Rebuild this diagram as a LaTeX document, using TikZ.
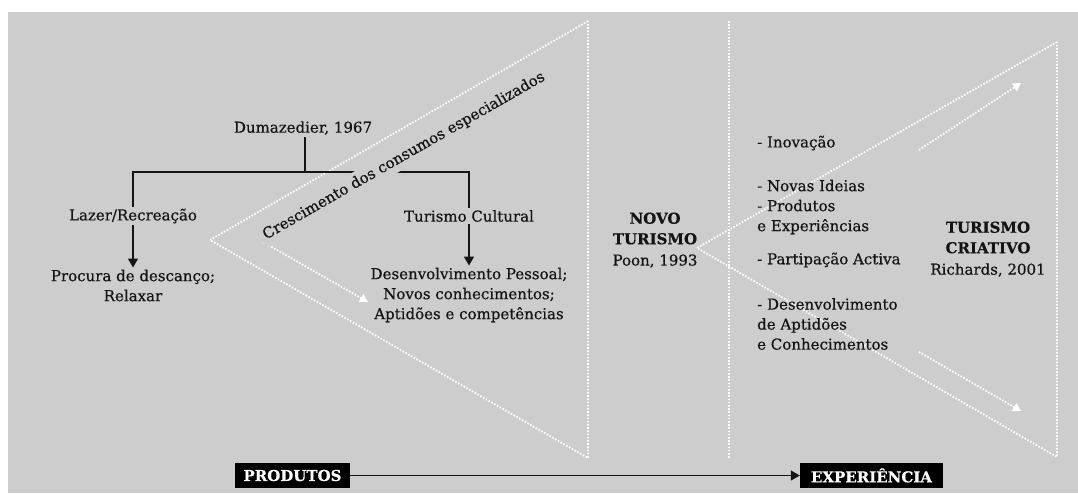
\documentclass[tikz,border=0pt]{standalone}
\usepackage{fontspec}
\setmainfont{DejaVu Serif}[FakeBold=0.5]
\usetikzlibrary{arrows.meta,positioning}
\definecolor{bggray}{RGB}{205,205,205}
\definecolor{ink}{RGB}{20,20,20}
\tikzset{
  every node/.style={text=ink, font=\fontsize{15}{20}\selectfont, inner sep=2pt},
  dotline/.style={white, line width=1.8pt, dash pattern=on 1.6pt off 1.6pt},
  dotarrow/.style={dotline, -{Triangle[length=8pt,width=9pt]}},
  tree/.style={ink, line width=1.3pt},
  treearrow/.style={tree, -{Triangle[length=9pt,width=10pt]}},
  title/.style={font=\fontsize{15}{20.5}\selectfont\bfseries, align=center},
  tag/.style={fill=black, text=white, font=\fontsize{15}{18}\selectfont\bfseries,
    minimum height=25pt, inner sep=0pt},
}
\begin{document}
\begin{tikzpicture}[x=1pt,y=-1pt]
\clip (0,0) rectangle (1078,493);
\fill[white] (0,0) rectangle (1078,493);
\fill[bggray] (8,12) rectangle (1078,493);

%dotted triangles and separators
\coordinate (lapex) at (210,240);
\coordinate (ltop) at (588,21);
\coordinate (lbot) at (588,458);
\coordinate (mtop) at (729,21);
\coordinate (mbot) at (729,458);
\coordinate (rapex) at (697,248);
\coordinate (rtop) at (1057,42);
\coordinate (rbot) at (1057,457);
\draw[dotline] (ltop) -- (lapex) -- (lbot) -- cycle;
\draw[dotline] (mtop) -- (mbot);
\draw[dotline] (rtop) -- (rapex) -- (rbot) -- cycle;

%inner arrows
\coordinate (la1) at (263,242);
\coordinate (la2) at (368,302);
\coordinate (ru1) at (919,150);
\coordinate (ru2) at (1021,83);
\coordinate (rd1) at (919,352);
\coordinate (rd2) at (1021,411);
\draw[dotarrow] (la1) -- (la2);
\draw[dotarrow] (ru1) -- (ru2);
\draw[dotarrow] (rd1) -- (rd2);

%tree on the left
\node (dum) at (303,128) {Dumazedier, 1967};
\node (lazer) at (133,216) {Lazer/Recreação};
\node (cult) at (469,216) {Turismo Cultural};
\node[align=center] (procura) at (133,285.5) {Procura de descanço;\\Relaxar};
\node[align=center] (desenv) at (469,295) {Desenvolvimento Pessoal;\\Novos conhecimentos;\\Aptidões e competências};
\coordinate (fork) at (305,172);
\draw[tree] (dum.south -| fork) -- (fork);
\draw[tree] (lazer.north) |- (fork) -| (cult.north);
\draw[treearrow] (lazer) -- (procura);
\draw[treearrow] (cult) -- (desenv);

\node[rotate=29.8, fill=bggray, inner sep=4pt] (cresc) at (404,156) {Crescimento dos consumos especializados};

%middle
\node[title] (novo) at (655,228.5) {NOVO\\TURISMO};
\node (poon) at (655,261) {Poon, 1993};

%right
\node[anchor=west] (inov) at (755,143) {- Inovação};
\node[anchor=west, align=left] (ideias) at (755,207) {- Novas Ideias\\- Produtos\\e Experiências};
\node[anchor=west] (part) at (755,260) {- Partipação Activa};
\node[anchor=west, align=left] (desapt) at (755,324) {- Desenvolvimento\\de Aptidões\\e Conhecimentos};
\node[title] (criat) at (988,237.5) {TURISMO\\CRIATIVO};
\node (rich) at (988,270) {Richards, 2001};

%bottom
\node[tag, minimum width=115pt] (prod) at (292.5,475.5) {PRODUTOS};
\node[tag, minimum width=143pt] (exper) at (871.5,475.5) {EXPERIÊNCIA};
\draw[treearrow] (prod) -- (exper);
\end{tikzpicture}
\end{document}
